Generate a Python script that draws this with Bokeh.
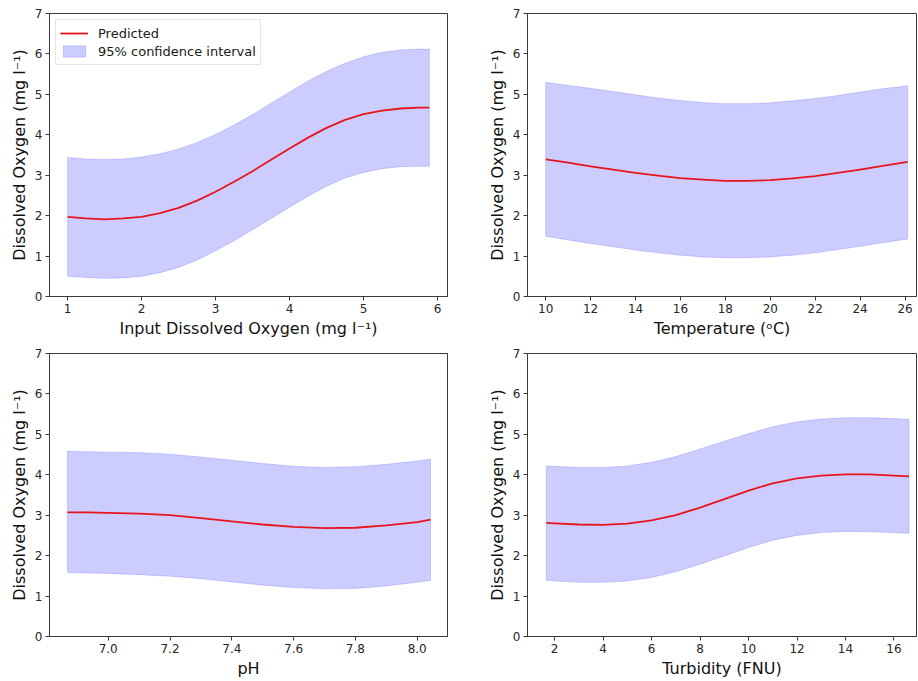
import numpy as np
from bokeh.plotting import figure
from bokeh.layouts import column, row
from bokeh.models import FixedTicker, PrintfTickFormatter, Legend, LegendItem, Range1d
from bokeh.embed import file_html
from bokeh.resources import INLINE

# ---------------- data ----------------
y_ticks = [0, 1, 2, 3, 4, 5, 6, 7]
y_label = "Dissolved Oxygen (mg l\u207b\u00b9)"

# Panel 1: Input dissolved oxygen
do_x = [1.0, 1.25, 1.5, 1.75, 2.0, 2.25, 2.5, 2.75, 3.0, 3.25, 3.5, 3.75, 4.0,
        4.25, 4.5, 4.75, 5.0, 5.25, 5.5, 5.75, 5.89]
do_pred = [1.97, 1.93, 1.91, 1.93, 1.97, 2.06, 2.19, 2.37, 2.59, 2.84, 3.10, 3.38, 3.66,
           3.93, 4.17, 4.37, 4.51, 4.60, 4.65, 4.67, 4.67]
do_up = [3.44, 3.40, 3.39, 3.40, 3.45, 3.53, 3.65, 3.81, 4.01, 4.24, 4.50, 4.78, 5.06,
         5.33, 5.57, 5.77, 5.93, 6.04, 6.10, 6.12, 6.12]
do_lo = [0.50, 0.47, 0.45, 0.46, 0.50, 0.59, 0.72, 0.90, 1.13, 1.38, 1.65, 1.93, 2.21,
         2.48, 2.73, 2.93, 3.07, 3.16, 3.21, 3.22, 3.22]
do_ticks = [1, 2, 3, 4, 5, 6]

# Panel 2: Temperature
t_x = [10, 11, 12, 13, 14, 15, 16, 17, 18, 19, 20, 21, 22, 23, 24, 25, 26.12]
t_pred = [3.39, 3.31, 3.22, 3.14, 3.06, 2.99, 2.93, 2.89, 2.86, 2.86, 2.88, 2.92, 2.98,
          3.06, 3.14, 3.23, 3.33]
t_up = [5.30, 5.22, 5.15, 5.07, 4.99, 4.91, 4.85, 4.80, 4.77, 4.77, 4.79, 4.84, 4.90,
        4.97, 5.06, 5.14, 5.21]
t_lo = [1.49, 1.40, 1.31, 1.23, 1.15, 1.08, 1.02, 0.98, 0.96, 0.96, 0.98, 1.02, 1.08,
        1.16, 1.24, 1.33, 1.42]
t_ticks = [10, 12, 14, 16, 18, 20, 22, 24, 26]

# Panel 3: pH
ph_x = [6.868, 6.934, 7.0, 7.1, 7.2, 7.3, 7.4, 7.5, 7.6, 7.7, 7.8, 7.9, 8.0, 8.043]
ph_pred = [3.07, 3.07, 3.06, 3.04, 3.00, 2.93, 2.85, 2.77, 2.71, 2.68, 2.69, 2.75, 2.83, 2.89]
ph_up = [4.58, 4.57, 4.56, 4.55, 4.51, 4.44, 4.36, 4.28, 4.21, 4.18, 4.20, 4.26, 4.34, 4.39]
ph_lo = [1.58, 1.57, 1.56, 1.53, 1.49, 1.43, 1.35, 1.27, 1.21, 1.18, 1.19, 1.25, 1.34, 1.39]
ph_ticks = [7.0, 7.2, 7.4, 7.6, 7.8, 8.0]

# Panel 4: Turbidity
tu_x = [1.655, 2, 3, 4, 5, 6, 7, 8, 9, 10, 11, 12, 13, 14, 15, 16, 16.62]
tu_pred = [2.81, 2.80, 2.77, 2.76, 2.79, 2.87, 3.00, 3.19, 3.40, 3.61, 3.79, 3.91, 3.98,
           4.01, 4.01, 3.98, 3.96]
tu_up = [4.22, 4.21, 4.18, 4.18, 4.22, 4.31, 4.45, 4.64, 4.83, 5.02, 5.19, 5.31, 5.38,
         5.41, 5.41, 5.39, 5.37]
tu_lo = [1.39, 1.37, 1.34, 1.34, 1.37, 1.46, 1.60, 1.79, 1.99, 2.20, 2.38, 2.50, 2.57,
         2.60, 2.59, 2.57, 2.55]
tu_ticks = [2, 4, 6, 8, 10, 12, 14, 16]

FONT = "DejaVu Sans"
TICK_COLOR = "#262626"
LINE_COLOR = "#3a3a3a"


def make_panel(xs, pred, up, lo, xr, xticks, xlabel, width, height,
               left, right, top, bottom, legend=False, fmt=None):
    p = figure(width=width, height=height, output_backend="svg",
               toolbar_location=None, x_range=Range1d(*xr), y_range=Range1d(0, 7),
               min_border_left=left, min_border_right=right,
               min_border_top=top, min_border_bottom=bottom)
    p.grid.visible = False
    p.background_fill_color = "white"
    p.border_fill_color = "white"
    p.outline_line_color = LINE_COLOR
    p.outline_line_width = 1

    xs_a = np.array(xs, dtype=float)
    band = p.patch(np.concatenate([xs_a, xs_a[::-1]]),
                   np.concatenate([np.array(lo), np.array(up)[::-1]]),
                   fill_color="blue", fill_alpha=0.2,
                   line_color="blue", line_alpha=0.15, line_width=1,
                   line_join="round")
    ln = p.line(xs, pred, line_color="#e8141b", line_width=1.8, line_join="round")

    for ax, ticks in ((p.xaxis[0], xticks), (p.yaxis[0], y_ticks)):
        ax.ticker = FixedTicker(ticks=ticks)
        ax.minor_tick_line_color = None
        ax.major_tick_out = 4
        ax.major_tick_in = 0
        ax.major_tick_line_color = LINE_COLOR
        ax.axis_line_color = LINE_COLOR
        ax.major_label_text_font = FONT
        ax.major_label_text_font_size = "12px"
        ax.major_label_text_color = TICK_COLOR
        ax.major_label_standoff = 3
        ax.axis_label_text_font = FONT
        ax.axis_label_text_font_size = "16px"
        ax.axis_label_text_font_style = "normal"
        ax.axis_label_text_color = "#111111"
        ax.axis_label_standoff = 3
    if fmt is not None:
        p.xaxis[0].formatter = PrintfTickFormatter(format=fmt)
    p.xaxis[0].axis_label = xlabel
    p.yaxis[0].axis_label = y_label

    if legend:
        leg = Legend(items=[LegendItem(label="Predicted", renderers=[ln]),
                            LegendItem(label="95% confidence interval", renderers=[band])],
                     location="top_left")
        leg.margin = 6
        leg.padding = 4
        leg.spacing = 0
        leg.label_height = 18
        leg.glyph_height = 14
        leg.glyph_width = 28
        leg.label_standoff = 10
        leg.label_text_font = FONT
        leg.label_text_font_size = "13px"
        leg.label_text_color = "#1a1a1a"
        leg.border_line_color = "#cccccc"
        leg.border_line_width = 1
        leg.background_fill_alpha = 0.8
        p.add_layout(leg)
    return p


p1 = make_panel(do_x, do_pred, do_up, do_lo, (0.755, 6.135), do_ticks,
                "Input Dissolved Oxygen (mg l\u207b\u00b9)", 470, 340, 49, 23, 13, 44, legend=True)
p2 = make_panel(t_x, t_pred, t_up, t_lo, (9.19, 26.51), t_ticks,
                "Temperature (\u1d52C)", 448, 340, 57, 2, 13, 44)
p3 = make_panel(ph_x, ph_pred, ph_up, ph_lo, (6.81, 8.098), ph_ticks,
                "pH", 470, 341, 49, 23, 13, 45, fmt="%.1f")
p4 = make_panel(tu_x, tu_pred, tu_up, tu_lo, (0.88, 16.93), tu_ticks,
                "Turbidity (FNU)", 448, 341, 57, 2, 13, 45)

layout = column(row(p1, p2), row(p3, p4))
open("out.html", "w").write(file_html(layout, INLINE))
